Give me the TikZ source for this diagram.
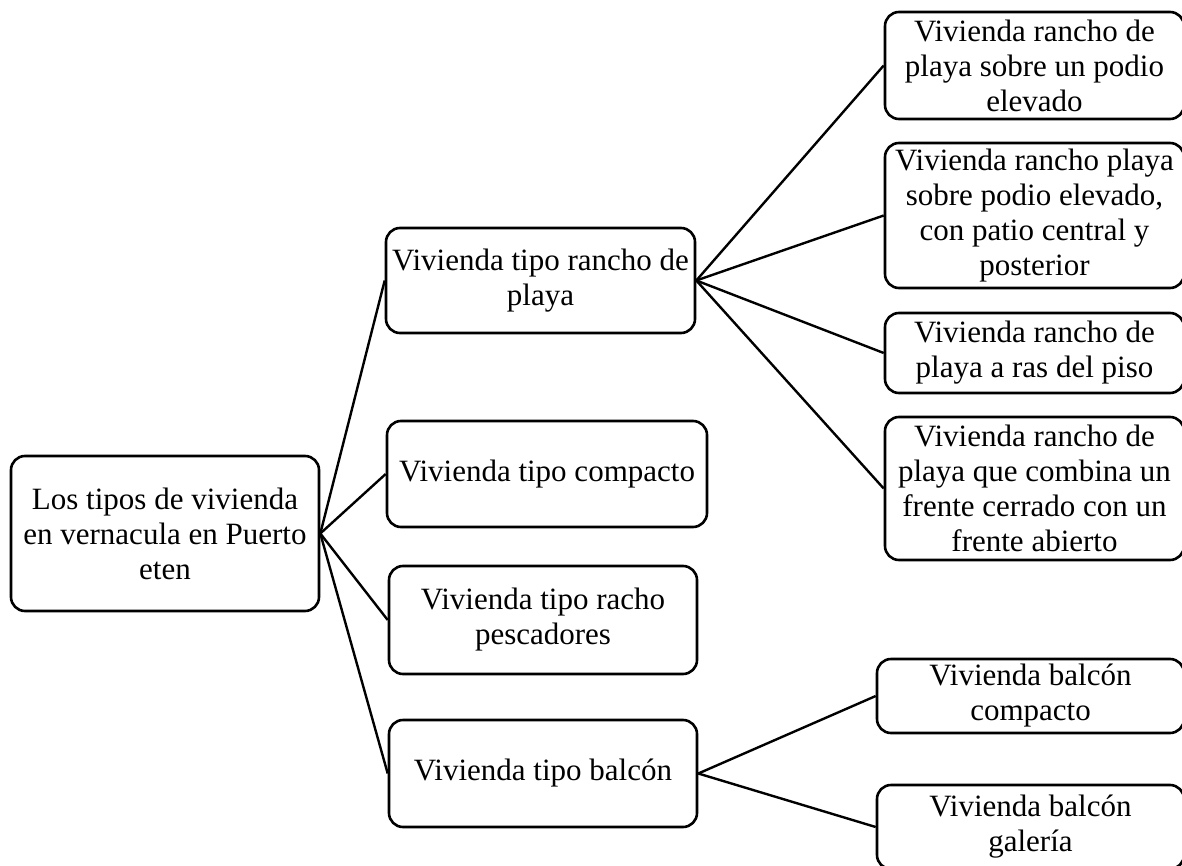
\documentclass[tikz,border=0pt]{standalone}
\usepackage{fontspec}
\setmainfont{Liberation Serif}

\tikzset{
    caja/.style={draw, line width=2.6pt, rounded corners=14pt, align=center,
        font=\fontsize{31}{35}\selectfont, inner sep=0pt},
    rama/.style={line width=2.4pt}
}

\begin{document}
\begin{tikzpicture}[x=1pt, y=-1pt]
            \useasboundingbox (0, 0) rectangle (1182, 866);
            % raiz
            \node[caja, minimum width=308pt, minimum height=155pt] (raiz) at (165, 533.5) {Los tipos de vivienda\\en vernacula en Puerto\\eten};
            % primer nivel
            \node[caja, minimum width=309pt, minimum height=105pt] (rancho) at (540.5, 280.5) {Vivienda tipo rancho de\\playa};
            \node[caja, minimum width=320pt, minimum height=106pt] (compacto) at (547, 474) {Vivienda tipo compacto};
            \node[caja, minimum width=308pt, minimum height=108pt] (pescadores) at (543, 620) {Vivienda tipo racho\\pescadores};
            \node[caja, minimum width=308pt, minimum height=107pt] (balcon) at (543, 773.5) {Vivienda tipo balcón};
            % segundo nivel
            \node[caja, minimum width=299pt, minimum height=107pt] (podio) at (1034.5, 65.5) {Vivienda rancho de\\playa sobre un podio\\elevado};
            \node[caja, minimum width=299pt, minimum height=145pt] (patio) at (1034.5, 215.5) {Vivienda rancho playa\\sobre podio elevado,\\con patio central y\\posterior};
            \node[caja, minimum width=299pt, minimum height=80pt] (ras) at (1034.5, 353) {Vivienda rancho de\\playa a ras del piso};
            \node[caja, minimum width=299pt, minimum height=143pt] (frente) at (1034.5, 488.5) {Vivienda rancho de\\playa que combina un\\frente cerrado con un\\frente abierto};
            \node[caja, minimum width=307pt, minimum height=74pt] (bcompacto) at (1030.5, 696) {Vivienda balcón\\compacto};
            \node[caja, minimum width=307pt, minimum height=84pt] (galeria) at (1030.5, 827) {Vivienda balcón\\galería};
            % ramas
            \foreach \h in {rancho, compacto, pescadores, balcon}
                \draw[rama] (raiz.east) -- (\h.west);
            \foreach \h in {podio, patio, ras, frente}
                \draw[rama] (rancho.east) -- (\h.west);
            \foreach \h in {bcompacto, galeria}
                \draw[rama] (balcon.east) -- (\h.west);
        \end{tikzpicture}
\end{document}
